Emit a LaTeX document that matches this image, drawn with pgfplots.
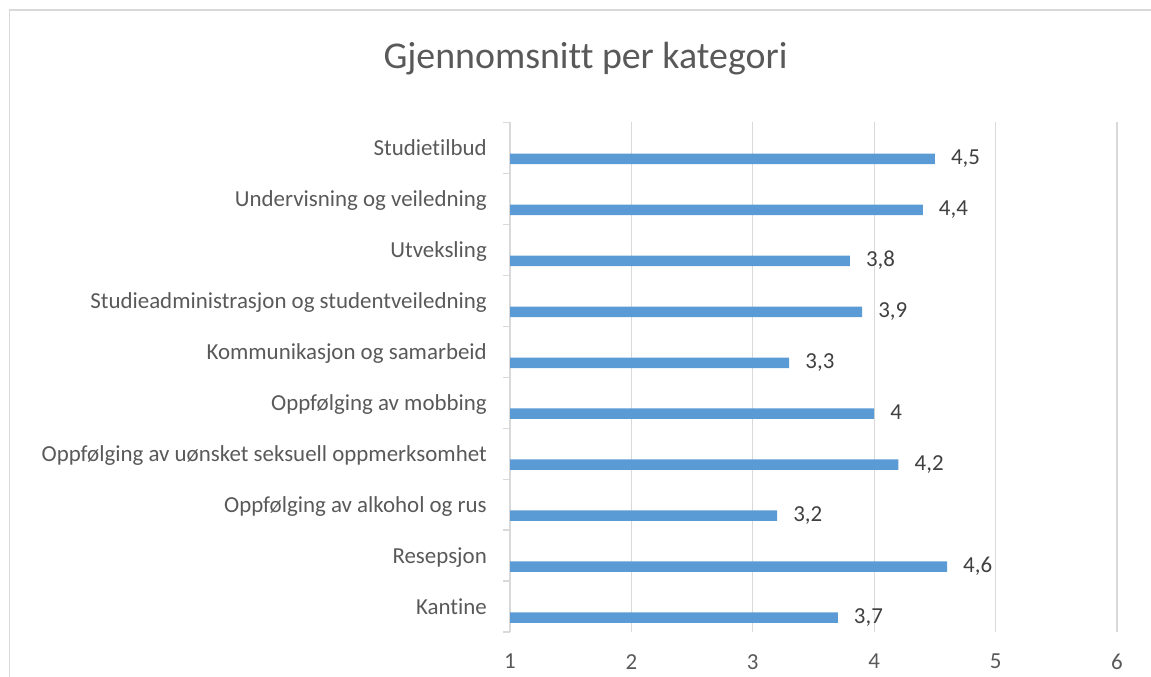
\documentclass[border=0pt]{standalone}
\usepackage{pgfplots}
\pgfplotsset{compat=1.18}
\usepackage{fontspec}
\setmainfont{Carlito}[Ligatures={NoCommon}]
\definecolor{barblue}{HTML}{5B9BD5}
\definecolor{txtgray}{HTML}{595959}
\definecolor{lblgray}{HTML}{404040}
\definecolor{gridgray}{HTML}{D9D9D9}
\begin{document}
\begin{tikzpicture}
\path[use as bounding box] (0,0) rectangle (1151bp,677bp);
\draw[gridgray, line width=1.2bp] (9.5bp,-5bp) -- (9.5bp,667bp) -- (1160bp,667bp);
\node[anchor=base, text=txtgray, font=\fontsize{38}{44}\selectfont] at (585.5bp,608bp) {Gjennomsnitt per kategori};
\begin{axis}[
  scale only axis,
  width=607bp, height=509.5bp,
  at={(510bp,45bp)}, anchor=south west,
  xbar, bar width=10.5bp, bar shift=-11bp,
  xmin=1, xmax=6, ymin=-0.5, ymax=9.5,
  xtick={1,2,3,4,5,6},
  ytick={-0.5,0.5,...,9.5},
  y tick label as interval,
  yticklabels={Kantine,Resepsjon,Oppfølging av alkohol og rus,Oppfølging av uønsket seksuell oppmerksomhet,Oppfølging av mobbing,Kommunikasjon og samarbeid,Studieadministrasjon og studentveiledning,Utveksling,Undervisning og veiledning,Studietilbud},
  axis y line*=left, axis x line*=bottom,
  x axis line style={draw=none},
  y axis line style={draw=gridgray, line width=1.2bp},
  xtick style={draw=none},
  ytick style={draw=gridgray, line width=1.2bp},
  tick align=outside, major tick length=7bp,
  xmajorgrids, major grid style={draw=gridgray, line width=1.2bp},
  /pgf/number format/assume math mode=true,
  tick label style={text=txtgray, font=\fontsize{23}{27}\selectfont},
  xticklabel style={anchor=north, inner sep=0pt, yshift=-15bp},
  yticklabel style={anchor=base east, inner sep=0pt, xshift=-16bp, yshift=-7.5bp},
  nodes near coords,
  nodes near coords style={anchor=base west, inner sep=0pt, xshift=16bp, yshift=-6bp, text=lblgray, font=\fontsize{23}{27}\selectfont,
    /pgf/number format/.cd, use comma, fixed, precision=1, assume math mode=true},
]
\addplot[fill=barblue, draw=none] coordinates {
 (3.7,0) (4.6,1) (3.2,2) (4.2,3) (4,4) (3.3,5) (3.9,6) (3.8,7) (4.4,8) (4.5,9)
};
\end{axis}
\end{tikzpicture}
\end{document}
